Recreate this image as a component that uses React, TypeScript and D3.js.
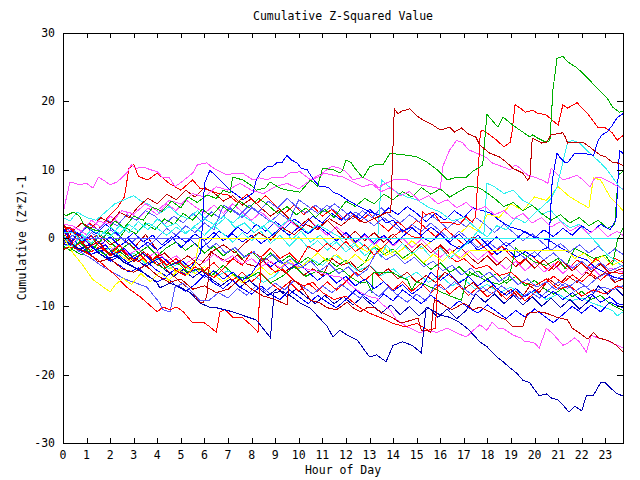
import React from 'react';
import * as d3 from 'd3';

const hourTicks = [0,1,2,3,4,5,6,7,8,9,10,11,12,13,14,15,16,17,18,19,20,21,22,23];
const valueTicks = [-30,-20,-10,0,10,20,30];

const RED = '#ff0000', GREEN = '#00b000', BLUE = '#0000ff', MAGENTA = '#ff50ff', CYAN = '#30f0f0',
  YELLOW = '#ffff00', DARKRED = '#c00000', DARKBLUE = '#0000b0', MIDBLUE = '#5858ff';

const gTop = [[0,3.5],[0.15,3.3],[0.45,3.8],[0.7,3.2],[0.9,1.8],[1.3,1.2],[1.8,0.8],[2.2,2.5],[2.6,1.5],[3.0,3.2],[3.4,2.6],[3.8,4.5],[4.2,3.9],[4.6,5.4],[5.0,4.4],[5.3,6.0],[5.7,5.2],[6.1,6.3],[6.5,5.8],[6.8,7.0],[7.08,6.6],[7.2,8.9],[7.63,8.5],[8.06,7.5],[8.2,7.0],[8.57,7.3],[8.78,8.2],[9.2,7.3],[9.54,7.0],[10.05,6.7],[10.5,8.5],[10.8,7.5],[11.0,10.2],[11.45,10.0],[11.75,9.5],[11.87,10.0],[12.0,11.4],[12.2,11.1],[12.38,10.2],[12.72,8.8],[13.0,10.4],[13.2,10.7],[13.57,10.7],[13.87,12.4],[14.6,12.1],[15.0,11.9],[15.44,11.1],[15.86,10.0],[16.3,8.5],[16.6,8.8],[17.1,8.9],[17.4,9.8],[17.68,10.4],[17.8,10.7],[17.98,18.1],[18.45,16.2],[18.66,17.7],[19.08,16.5],[19.5,15.5],[19.8,14.8],[19.93,15.1],[20.14,14.6],[20.5,14.0],[20.65,14.3],[20.78,21.7],[20.95,26.3],[21.2,26.6],[21.4,25.8],[21.8,24.9],[22.2,23.6],[22.6,22.1],[23.07,20.5],[23.3,19.2],[23.6,18.4],[23.75,18.6]];

const rJump14 = [[0,-1.8],[0.3,-1.2],[0.6,0.5],[1.0,-1.5],[1.5,-0.5],[2.0,-2.5],[2.5,-1.8],[3.0,-3.5],[3.4,-2.0],[3.8,-3.2],[4.3,-2.2],[4.8,-3.8],[5.3,-2.6],[5.8,-4.0],[6.3,-2.0],[6.8,-1.0],[7.3,-2.2],[7.8,-0.5],[8.3,0.8],[8.8,-0.3],[9.3,1.5],[9.8,0.5],[10.3,2.0],[10.8,1.2],[11.3,2.8],[11.8,1.8],[12.3,3.2],[12.8,2.2],[13.3,3.0],[13.7,3.7],[13.9,3.7],[14.05,18.9],[14.2,18.2],[14.4,18.6],[14.7,18.9],[15.0,17.9],[15.3,17.2],[15.7,16.5],[16.0,15.8],[16.4,16.2],[16.6,15.5],[16.9,16.1],[17.2,15.2],[17.5,14.8],[17.68,13.6],[18.1,12.4],[18.5,11.9],[18.8,11.1],[19.08,10.2],[19.5,9.5],[19.7,8.5],[19.8,8.8],[19.9,14.6],[20.3,13.9],[20.5,14.0],[20.7,15.1],[21.2,15.4],[21.3,14.8],[21.4,13.9],[21.8,14.0],[22.05,14.0],[22.35,13.3],[22.6,12.6],[22.8,12.1],[23.0,11.9],[23.3,11.1],[23.5,11.0],[23.75,10.6]];

const r19 = [[0,1.6],[0.4,1.2],[0.8,-0.8],[1.2,0.3],[1.6,-1.5],[2.0,-2.4],[2.4,-1.0],[2.8,-2.8],[3.2,-3.5],[3.6,-2.3],[4.0,-4.0],[4.4,-3.2],[4.8,-4.8],[5.2,-5.5],[5.6,-4.2],[6.0,-5.0],[6.4,-5.8],[6.8,-4.5],[7.2,-3.0],[7.6,-4.0],[8.0,-2.0],[8.4,-2.8],[8.8,-1.5],[9.2,-3.0],[9.6,-2.2],[10.0,-3.5],[10.4,-1.2],[10.8,-2.0],[11.2,-0.8],[11.6,-1.8],[12.0,-0.5],[12.4,-2.0],[12.8,-1.0],[13.2,-2.5],[13.6,-1.2],[14.0,0.2],[14.4,1.2],[14.8,0.2],[15.15,0.0],[15.25,3.8],[15.4,3.4],[15.7,3.8],[16.0,2.3],[16.4,2.3],[16.8,1.9],[17.1,3.1],[17.35,2.3],[17.5,3.1],[17.6,9.0],[17.7,15.5],[17.8,15.8],[18.1,15.1],[18.4,14.3],[18.7,13.3],[18.96,14.0],[19.04,15.4],[19.17,19.5],[19.4,19.0],[19.6,18.4],[19.93,18.7],[20.1,18.3],[20.5,18.0],[21.0,16.5],[21.2,19.5],[21.4,19.0],[21.8,19.8],[22.2,18.4],[22.7,16.1],[23.0,16.1],[23.3,15.4],[23.5,14.3],[23.75,15.0]];

const bTopEnd = [[0,-1.0],[0.3,-1.0],[0.6,0.8],[1.0,-0.5],[1.4,-1.8],[1.8,-1.0],[2.2,-2.6],[2.6,-1.5],[3.0,-3.0],[3.4,-2.2],[3.8,-3.5],[4.2,-2.8],[4.6,-4.0],[5.0,-3.2],[5.4,-4.4],[5.7,-3.0],[5.85,-2.0],[6.0,8.0],[6.23,9.9],[6.66,8.5],[7.08,7.0],[7.38,6.3],[7.63,5.6],[8.06,6.6],[8.2,8.5],[8.35,9.5],[8.65,10.4],[8.86,10.4],[9.07,11.0],[9.3,11.1],[9.5,12.1],[9.7,11.4],[9.92,11.0],[10.1,10.2],[10.35,10.0],[10.5,9.2],[10.7,8.2],[10.9,7.5],[11.1,7.5],[11.3,7.3],[11.45,6.7],[11.75,6.3],[12.05,5.6],[12.5,4.7],[13.0,3.8],[13.4,3.4],[13.7,2.2],[14.0,2.6],[14.4,1.0],[14.8,1.6],[15.2,0.2],[15.6,-0.6],[16.0,0.6],[16.4,-0.8],[16.8,-1.6],[17.2,-0.4],[17.6,-1.8],[18.0,-1.0],[18.4,-2.4],[18.8,-1.5],[19.2,-2.8],[19.6,-2.0],[20.0,-2.8],[20.3,-1.8],[20.6,-1.3],[20.75,8.5],[20.95,12.4],[21.1,11.7],[21.3,11.0],[21.4,11.0],[21.7,12.4],[22.05,12.4],[22.5,12.1],[22.7,14.3],[22.86,15.1],[23.07,15.5],[23.3,16.5],[23.5,17.6],[23.75,18.2]];

const mTop = [[0,3.5],[0.15,6.0],[0.3,8.2],[0.5,8.0],[0.7,7.8],[1.0,8.0],[1.27,7.3],[1.5,8.9],[1.7,8.5],[2.0,7.8],[2.3,8.2],[2.7,9.5],[2.9,10.7],[3.1,10.2],[3.4,10.4],[3.7,10.0],[4.0,9.7],[4.24,8.8],[4.5,8.9],[4.75,7.5],[5.1,8.4],[5.5,9.5],[5.7,10.7],[6.1,11.0],[6.3,10.4],[6.66,9.7],[7.0,9.2],[7.2,9.5],[7.6,9.5],[8.06,8.5],[8.35,8.8],[8.65,8.5],[8.9,8.9],[9.33,8.8],[9.6,9.5],[10.05,9.7],[10.5,8.5],[10.8,8.9],[11.1,9.5],[11.45,9.2],[11.9,8.9],[12.3,8.2],[12.7,7.5],[13.1,7.9],[13.5,6.8],[13.9,7.4],[14.3,6.2],[14.7,6.8],[15.1,5.5],[15.5,6.2],[15.9,5.0],[16.3,5.6],[16.7,4.4],[17.1,5.2],[17.5,4.0],[17.9,4.6],[18.3,3.4],[18.7,4.0],[19.1,2.8],[19.5,3.6],[19.9,2.2],[20.3,3.0],[20.7,1.6],[21.1,2.4],[21.5,1.0],[21.9,1.8],[22.3,0.6],[22.7,1.6],[23.1,0.2],[23.5,1.0],[23.75,0.4]];

const m17 = [[0,0.6],[0.5,1.5],[1,0.5],[1.5,2.5],[2,2],[2.5,4],[3,3.5],[3.5,5],[4,4],[4.5,5.5],[5,5],[5.5,6.5],[6,6],[6.5,7.5],[7,7],[7.5,8],[8,7],[8.5,6.5],[9,7.5],[9.5,8],[10,7.2],[10.5,8.5],[11,9.5],[11.4,10.5],[11.75,10.2],[12.0,9.7],[12.3,8.5],[12.7,8.9],[13.1,8.2],[13.4,7.3],[13.57,7.8],[14.0,8.5],[14.6,8.5],[15.1,7.8],[15.6,7.5],[16.0,7.2],[16.1,10.4],[16.4,12.9],[16.7,14.3],[16.96,13.9],[17.2,12.9],[17.56,12.4],[17.98,11.7],[18.2,11.0],[18.66,10.4],[18.96,10.0],[19.17,10.7],[19.4,10.2],[19.7,9.2],[20.0,8.9],[20.3,8.5],[20.57,8.0],[20.7,10.2],[20.86,9.7],[21.2,8.5],[21.5,8.8],[21.8,9.2],[22.05,8.5],[22.35,7.5],[22.56,8.8],[22.86,8.8],[23.2,8.2],[23.5,7.6],[23.75,7.2]];

const cyan21 = [[0,0.5],[0.4,-1.2],[0.8,0.5],[1.2,-0.8],[1.6,1.0],[2.0,0.2],[2.4,1.8],[2.8,0.8],[3.2,2.4],[3.6,1.2],[4.0,2.8],[4.4,1.6],[4.8,2.2],[5.2,0.8],[5.6,1.6],[6.0,0.4],[6.4,1.8],[6.8,0.6],[7.2,-0.6],[7.6,0.8],[8.0,-0.4],[8.4,1.0],[8.8,-0.8],[9.2,0.4],[9.6,-1.2],[10.0,0.2],[10.4,-1.5],[10.8,-0.4],[11.2,-1.8],[11.6,-0.6],[12.0,-2.0],[12.4,-1.0],[12.8,-2.6],[13.2,-1.4],[13.5,-2.8],[13.7,-1.0],[14.0,-2.2],[14.4,-0.8],[14.8,-2.4],[15.2,-1.2],[15.6,-2.8],[16.0,-1.4],[16.4,-3.0],[16.8,-1.8],[17.2,-0.6],[17.6,1.0],[18.0,0.2],[18.4,1.8],[18.8,1.2],[19.2,3.0],[19.6,2.2],[20.0,3.6],[20.4,4.8],[20.7,5.8],[20.95,7.5],[21.4,14.0],[21.6,14.3],[21.9,13.9],[22.2,12.9],[22.5,11.9],[22.8,11.0],[23.07,10.0],[23.3,8.9],[23.6,7.5],[23.75,7.0]];

const cyan13 = [[0,3.0],[0.3,2.5],[0.6,3.8],[1.0,3.0],[1.4,2.6],[1.8,3.8],[2.2,5.0],[2.6,5.6],[3.0,6.2],[3.3,5.4],[3.7,4.8],[4.1,3.6],[4.5,4.6],[4.9,3.4],[5.3,2.8],[5.7,4.0],[6.1,2.6],[6.5,1.8],[6.9,3.0],[7.3,1.5],[7.7,2.2],[8.1,0.8],[8.5,1.8],[8.9,0.4],[9.3,1.4],[9.7,-0.2],[10.1,1.0],[10.5,-0.6],[10.9,0.4],[11.3,-1.0],[11.7,0.0],[12.1,-1.4],[12.5,-0.4],[12.9,-1.6],[13.2,-0.5],[13.35,0.0],[13.5,8.5],[13.9,7.3],[14.2,6.6],[14.6,6.0],[15.0,5.6],[15.5,4.5],[16.0,3.8],[16.5,2.5],[17.0,3.0],[17.5,1.5],[17.85,0.5],[17.98,8.0],[18.3,7.5],[18.7,6.5],[19.1,7.0],[19.5,5.5],[19.9,4.8],[20.3,3.5],[20.7,4.0],[21.1,2.5],[21.5,1.5],[21.9,2.0],[22.3,0.5],[22.7,-1.0],[23.1,-2.5],[23.5,-3.5],[23.75,-4.2]];

const cyanLow = [[0,-1.2],[0.5,-1],[1,-0.5],[1.5,-2],[2,-1.5],[2.5,-3],[3,-2.2],[3.5,-3.8],[4,-3],[4.5,-4.5],[5,-3.6],[5.5,-5],[6,-4.2],[6.5,-5.6],[7,-4.8],[7.5,-6.0],[8,-5.2],[8.5,-6.5],[9,-5.5],[9.5,-3.5],[10,-4.5],[10.5,-3.0],[11,-4.0],[11.5,-2.5],[12,-3.5],[12.5,-4.8],[13,-4.0],[13.5,-5.5],[14,-4.5],[14.5,-6.0],[15,-5.0],[15.5,-6.5],[16,-5.5],[16.5,-7.0],[17,-6.0],[17.5,-7.5],[18,-6.8],[18.5,-8.0],[19,-7.2],[19.5,-8.5],[20,-7.8],[20.5,-9.0],[21,-8.2],[21.5,-9.2],[22,-8.8],[22.5,-9.6],[23,-10.2],[23.3,-10.6],[23.5,-11.4],[23.75,-10.8]];

const bBottom = [[0,-0.3],[0.3,-0.8],[0.7,-1.6],[1.1,-1.0],[1.5,-2.2],[1.9,-3.0],[2.3,-2.6],[2.6,-3.6],[2.97,-4.2],[3.56,-5.4],[4.0,-6.6],[4.1,-7.3],[4.54,-6.6],[4.96,-7.2],[5.4,-8.0],[5.8,-9.5],[6.2,-10.1],[6.5,-10.2],[7.2,-10.8],[7.6,-11.3],[8.2,-12.0],[8.8,-14.6],[8.95,-8.0],[9.3,-7.8],[9.7,-8.6],[10.05,-9.5],[10.5,-10.3],[10.9,-11.8],[11.2,-12.9],[11.45,-14.5],[11.75,-13.5],[12.05,-14.2],[12.47,-14.9],[13.0,-17.4],[13.3,-17.1],[13.7,-18.1],[14.0,-15.7],[14.4,-15.2],[14.8,-15.7],[15.2,-16.8],[15.4,-10.1],[15.7,-10.6],[16.0,-11.3],[16.4,-11.6],[16.8,-12.3],[17.2,-13.4],[17.68,-15.2],[17.98,-15.9],[18.4,-17.4],[18.66,-18.1],[18.96,-19.0],[19.25,-19.8],[19.5,-20.8],[19.8,-21.2],[20.0,-22.2],[20.2,-23.1],[20.5,-22.8],[20.7,-23.4],[21.0,-23.7],[21.2,-24.4],[21.46,-25.5],[21.7,-24.6],[22.0,-25.3],[22.2,-23.0],[22.5,-23.0],[22.8,-21.2],[23.0,-21.2],[23.3,-22.2],[23.5,-22.8],[23.75,-23.1]];

const rLowLeft = [[0,1.0],[0.3,-0.6],[0.6,-1.4],[1.0,-2.2],[1.4,-3.0],[1.8,-4.2],[2.2,-5.4],[2.7,-7.2],[3.27,-8.6],[4.0,-10.8],[4.24,-10.1],[4.54,-10.5],[4.83,-10.1],[5.1,-10.8],[5.47,-12.3],[5.94,-12.3],[6.23,-13.0],[6.5,-13.8],[6.66,-10.8],[6.87,-10.5],[7.2,-11.6],[7.63,-11.7],[8.06,-13.0],[8.27,-13.8],[8.4,-2.8],[8.6,-3.8],[9.0,-5.0],[9.3,-4.5],[9.8,-6.2],[10.2,-7.0],[10.6,-6.5],[11.0,-8.0],[11.5,-9.0],[12.0,-8.5],[12.5,-10.0],[13.0,-11.0],[13.5,-11.7],[14.0,-12.5],[14.5,-13.0],[15.0,-12.5],[15.5,-13.5],[15.8,-13.2],[15.95,-1.0],[16.3,-2.5],[16.7,-3.5],[17.0,-3.0],[17.5,-4.5],[18.0,-4.0],[18.5,-5.5],[19.0,-5.0],[19.5,-6.5],[20.0,-7.0],[20.5,-6.0],[21.0,-7.5],[21.5,-7.0],[22.0,-8.5],[22.5,-7.6],[23.0,-8.2],[23.5,-7.0],[23.75,-7.4]];

const mLow = [[0,-0.5],[0.4,-0.8],[0.8,0.4],[1.2,-1.2],[1.6,-0.4],[2.0,-1.8],[2.4,-1.0],[2.8,-2.4],[3.2,-1.6],[3.6,-2.8],[4.0,-2.0],[4.4,-3.4],[4.8,-2.6],[5.2,-3.8],[5.6,-2.8],[6.0,-3.6],[6.4,-2.4],[6.8,-3.4],[7.2,-2.6],[7.6,-3.8],[8.0,-3.0],[8.4,-4.2],[8.8,-3.4],[9.2,-4.4],[9.6,-3.6],[10.0,-4.2],[10.5,-4.7],[10.9,-5.0],[11.3,-5.5],[11.75,-5.7],[12.05,-6.4],[12.3,-7.2],[12.6,-7.9],[13.0,-8.6],[13.3,-8.8],[13.57,-9.8],[13.87,-10.5],[14.16,-12.0],[14.6,-13.0],[15.14,-13.9],[15.4,-13.5],[15.86,-13.8],[16.3,-13.2],[16.7,-13.9],[17.1,-14.5],[17.4,-13.5],[17.68,-12.7],[17.98,-13.5],[18.2,-12.3],[18.45,-13.2],[18.66,-13.2],[19.08,-14.2],[19.4,-14.6],[19.6,-15.2],[19.8,-15.2],[20.0,-15.4],[20.2,-16.1],[20.5,-13.2],[20.7,-13.8],[20.9,-14.5],[21.2,-15.7],[21.4,-15.4],[21.7,-14.6],[21.9,-15.2],[22.2,-16.7],[22.4,-14.2],[22.65,-14.6],[23.0,-14.9],[23.3,-15.4],[23.5,-15.7],[23.75,-16.1]];

const drLowRight = [[0,2.2],[0.5,-1.5],[1,-2],[1.5,-3.5],[2,-3],[2.5,-4.5],[3,-5],[3.5,-4],[4,-5.5],[4.5,-6.5],[5,-6],[5.5,-7.5],[6,-7],[6.5,-8],[7,-7.5],[7.5,-6],[8,-7.5],[8.5,-8.5],[9,-9],[9.5,-9.8],[9.6,-6.4],[9.75,-6.1],[10.05,-6.9],[10.5,-9.1],[10.9,-9.5],[11.2,-10.2],[11.6,-10.5],[12.05,-9.4],[12.3,-10.2],[12.6,-10.8],[12.9,-10.2],[13.15,-10.1],[13.57,-11.0],[14.0,-11.7],[14.3,-12.4],[14.5,-12.3],[14.8,-12.0],[15.05,-11.7],[15.2,-13.5],[15.4,-13.5],[15.6,-13.8],[15.75,-9.0],[16.0,-9.5],[16.5,-10.5],[17.0,-9.5],[17.4,-10.5],[17.68,-10.1],[18.1,-10.8],[18.5,-11.6],[18.8,-12.0],[19.08,-13.0],[19.5,-13.0],[19.7,-11.0],[20.2,-10.8],[20.5,-11.0],[20.95,-11.6],[21.4,-12.0],[21.6,-13.2],[21.9,-13.9],[22.26,-14.8],[22.5,-13.8],[22.7,-14.6],[23.0,-14.9],[23.2,-15.1],[23.5,-15.8],[23.75,-16.7]];

const yellowLow = [[0,0.2],[0.42,-2.2],[0.8,-3.8],[1.27,-6.1],[1.6,-6.9],[2.0,-7.9],[2.2,-6.9],[2.54,-5.9],[2.9,-6.8],[3.3,-5.2],[3.7,-6.4],[4.1,-5.0],[4.5,-6.2],[4.9,-4.6],[5.3,-5.4],[5.6,-3.8],[5.8,0],[12.2,0],[12.5,-1.2],[12.9,-2.0],[13.3,-1.0],[13.7,-2.6],[14.1,-1.8],[14.5,-3.2],[14.9,-2.2],[15.3,-3.6],[15.7,-2.4],[16.1,-3.4],[16.5,-2.0],[16.9,-3.0],[17.3,-1.8],[17.68,-1.8],[21.4,-1.8],[21.7,-3.0],[22.1,-2.2],[22.5,-3.6],[22.9,-2.6],[23.3,-4.0],[23.75,-3.2]];

const midblueZero = [[0,0],[5.9,0],[6.2,-1.5],[6.5,-0.8],[6.9,-2.2],[7.3,-1.4],[7.7,-2.8],[8.1,-2.0],[8.5,-3.4],[8.9,-2.4],[9.3,-3.8],[9.7,-3.0],[10.1,-4.4],[10.5,-3.4],[10.9,-4.8],[11.3,-3.8],[11.7,-5.2],[12.1,-4.2],[12.5,-5.6],[12.9,-4.6],[13.3,-2.0],[13.7,-3.2],[14.1,-2.4],[14.5,-3.8],[14.9,-2.8],[15.3,-4.2],[15.7,-3.4],[16.1,-4.8],[16.5,-4.0],[16.9,-5.4],[17.3,-4.4],[17.7,-5.8],[18.1,-5.0],[18.5,-6.4],[18.9,-5.4],[19.3,-6.8],[19.7,-6.0],[20.1,-7.2],[20.5,-6.4],[20.9,-7.6],[21.3,-6.6],[21.7,-7.8],[22.1,-7.0],[22.5,-8.0],[22.9,-7.2],[23.3,-7.6],[23.75,-7.0]];

const cyanZero = [[0,0.8],[0.4,0.8],[0.8,-0.4],[1.2,1.2],[1.6,0.4],[2.0,1.6],[2.4,0.6],[2.8,2.0],[3.2,1.0],[3.6,2.2],[4.0,1.4],[4.4,0.4],[4.8,1.6],[5.2,0.6],[5.6,1.8],[6.0,2.8],[6.4,2.0],[6.8,3.2],[7.2,2.2],[7.6,3.4],[8.0,2.4],[8.4,1.4],[8.8,2.6],[9.2,1.6],[9.6,2.8],[10.0,1.8],[10.4,0.8],[10.8,2.0],[11.2,1.2],[11.5,0.6],[11.8,0],[23.75,0]];

const g2 = [[0,-1.2],[0.3,-1.8],[0.7,-0.6],[1.1,-2.0],[1.5,-0.8],[1.9,0.8],[2.3,-0.4],[2.7,1.4],[3.1,0.6],[3.5,2.2],[3.9,1.2],[4.3,2.8],[4.7,2.0],[5.1,3.6],[5.5,2.6],[5.9,4.2],[6.3,3.2],[6.7,4.8],[7.1,3.8],[7.5,5.4],[7.9,4.4],[8.3,5.8],[8.7,4.8],[9.1,3.6],[9.5,4.6],[9.9,3.4],[10.3,4.4],[10.7,3.0],[11.1,4.2],[11.5,3.0],[11.75,4.2],[12.0,5.4],[12.4,4.6],[12.8,5.8],[13.2,5.0],[13.6,6.4],[14.0,5.6],[14.4,6.8],[14.8,6.0],[15.2,7.4],[15.6,6.4],[16.0,7.2],[16.4,6.0],[16.8,6.8],[17.2,7.6],[17.68,7.3],[17.98,6.6],[18.3,5.8],[18.7,4.6],[19.1,5.2],[19.5,4.0],[19.9,4.8],[20.3,3.6],[20.7,2.6],[21.1,3.4],[21.5,2.2],[21.9,3.0],[22.3,1.8],[22.7,2.6],[23.1,1.4],[23.4,2.0],[23.55,9.2],[23.75,9.8]];

const gMid = [[0,0.8],[0.3,-1.5],[0.8,-2.5],[1.2,-1.0],[1.8,-2.5],[2.2,-1.5],[2.8,-3.0],[3.3,-2.0],[3.8,-3.5],[4.3,-4.5],[4.8,-3.5],[5.3,-5.0],[5.8,-4.5],[6.3,-5.5],[6.8,-4.0],[7.3,-5.5],[7.8,-6.0],[8.3,-5.0],[8.8,-6.6],[9.3,-5.6],[9.8,-4.2],[10.3,-5.6],[10.8,-4.8],[11.3,-5.2],[11.75,-4.4],[12.2,-5.7],[12.6,-6.6],[12.9,-6.4],[13.1,-8.0],[13.15,-5.1],[13.57,-5.0],[14.0,-5.1],[14.3,-5.7],[14.6,-6.1],[14.8,-7.6],[15.0,-6.4],[15.4,-6.9],[15.86,-7.6],[16.1,-8.0],[16.5,-8.6],[16.9,-9.1],[17.1,-6.1],[17.25,-5.0],[17.5,-5.5],[18.0,-6.3],[18.5,-6.8],[18.9,-6.0],[19.2,-1.5],[19.6,-2.5],[20.0,-3.5],[20.5,-4.0],[21.0,-3.0],[21.3,-4.5],[21.7,-1.5],[22.0,-2.0],[22.5,-3.0],[23.0,-2.5],[23.3,-4.0],[23.5,-0.5],[23.75,1.5]];

const gLowRight = [[0,0.5],[0.4,1.2],[0.8,0.2],[1.2,-1.0],[1.6,0.4],[2.0,-0.6],[2.4,-1.8],[2.8,-0.8],[3.2,-2.2],[3.6,-1.2],[4.0,-2.6],[4.4,-1.4],[4.8,-0.6],[5.2,-1.8],[5.6,-0.8],[6.0,-2.2],[6.4,-1.2],[6.8,-2.6],[7.2,-1.6],[7.6,-3.0],[8.0,-2.0],[8.4,-3.4],[8.8,-2.2],[9.2,-3.6],[9.6,-2.6],[10.0,-3.8],[10.4,-2.8],[10.8,-4.0],[11.2,-3.0],[11.6,-4.2],[12.0,-3.2],[12.4,-4.6],[12.8,-3.6],[13.2,-1.2],[13.6,-2.4],[14.0,-1.6],[14.4,-3.0],[14.8,-2.0],[15.2,-3.4],[15.6,-4.6],[16.0,-3.6],[16.4,-5.0],[16.8,-4.2],[17.2,-5.6],[17.6,-4.8],[18.0,-6.0],[18.4,-5.2],[18.8,-6.6],[19.2,-5.6],[19.6,-7.0],[20.0,-6.2],[20.4,-7.4],[20.8,-8.2],[21.2,-7.4],[21.6,-8.6],[22.0,-7.8],[22.4,-9.0],[22.8,-8.4],[23.2,-9.6],[23.5,-10.2],[23.75,-10.6]];

const bRight1 = [[0,-0.8],[0.3,1.2],[0.6,0.2],[1.0,1.6],[1.4,0.6],[1.8,2.0],[2.2,1.0],[2.6,-0.4],[3.0,0.8],[3.4,-0.6],[3.8,0.4],[4.2,-1.0],[4.6,0.2],[5.0,-1.4],[5.4,-0.2],[5.8,-1.6],[6.2,-0.6],[6.6,1.0],[7.0,0.2],[7.4,1.6],[7.8,0.6],[8.2,2.0],[8.6,1.0],[9.0,2.4],[9.4,1.4],[9.8,2.8],[10.2,1.8],[10.6,3.2],[11.0,2.2],[11.4,3.6],[11.8,2.6],[12.2,3.8],[12.6,2.8],[13.0,4.2],[13.4,3.0],[13.8,4.4],[14.2,3.4],[14.6,4.6],[15.0,3.6],[15.4,2.4],[15.8,3.6],[16.2,2.6],[16.6,4.0],[17.0,3.0],[17.4,4.4],[17.68,4.1],[18.1,3.7],[18.5,2.6],[18.96,1.6],[19.4,1.2],[19.8,0.4],[20.2,0.0],[20.6,-0.3],[21.0,-1.2],[21.4,-2.0],[21.8,-2.7],[22.2,-3.2],[22.6,-4.4],[23.0,-5.1],[23.4,-5.8],[23.75,-6.0]];

const bRight2 = [[0,1.5],[0.4,-1.0],[0.8,-2.0],[1.2,-1.2],[1.6,-2.4],[2.0,-3.4],[2.4,-2.6],[2.8,-3.8],[3.2,-4.6],[3.6,-3.6],[4.0,-4.8],[4.4,-5.6],[4.8,-4.4],[5.2,-5.4],[5.6,-4.6],[6.0,-5.8],[6.4,-4.8],[6.8,-6.0],[7.2,-5.0],[7.6,-6.2],[8.0,-5.2],[8.4,-3.0],[8.8,-4.2],[9.2,-3.2],[9.6,-4.6],[10.0,-3.6],[10.4,-5.0],[10.8,-6.2],[11.2,-5.2],[11.6,-6.6],[12.0,-5.6],[12.4,-7.0],[12.8,-6.0],[13.2,-7.4],[13.6,-6.4],[14.0,-7.8],[14.4,-6.8],[14.8,-8.2],[15.2,-7.2],[15.6,-5.0],[16.0,-6.2],[16.4,-5.2],[16.8,-6.6],[17.2,-5.6],[17.6,-7.0],[18.0,-6.0],[18.4,-7.4],[18.8,-8.4],[19.2,-7.4],[19.6,-8.6],[20.0,-7.6],[20.4,-8.8],[20.8,-7.8],[21.2,-9.0],[21.6,-8.0],[22.0,-9.2],[22.4,-8.2],[22.8,-9.4],[23.2,-8.6],[23.5,-9.6],[23.75,-9.8]];

const midblueLow = [[0,0.3],[0.4,-1.2],[0.7,-2.0],[1.2,-3.0],[1.6,-4.0],[2.0,-4.8],[2.3,-5.4],[2.7,-6.1],[3.1,-6.6],[3.56,-7.2],[4.1,-9.5],[4.24,-10.5],[4.54,-10.8],[4.75,-7.2],[5.1,-6.6],[5.5,-8.0],[5.8,-9.1],[6.2,-9.1],[6.6,-8.0],[7.0,-8.8],[7.4,-7.4],[7.8,-8.4],[8.2,-7.0],[8.6,-7.8],[9.0,-6.6],[9.4,-7.6],[9.8,-6.2],[10.2,-7.2],[10.6,-8.2],[11.0,-7.0],[11.4,-8.0],[11.8,-6.8],[12.2,-7.8],[12.6,-8.8],[13.0,-7.6],[13.4,-8.6],[13.8,-7.2],[14.2,-8.4],[14.6,-9.4],[15.0,-8.2],[15.4,-9.2],[15.8,-6.8],[16.2,-7.6],[16.6,-6.4],[17.0,-7.4],[17.4,-8.4],[17.8,-7.2],[18.2,-8.2],[18.6,-7.0],[19.0,-8.0],[19.4,-9.0],[19.8,-7.8],[20.2,-8.8],[20.6,-7.6],[21.0,-6.4],[21.4,-7.4],[21.8,-6.2],[22.2,-7.2],[22.6,-6.0],[23.0,-5.2],[23.4,-6.2],[23.75,-5.4]];

const midblueUp = [[0,1.0],[0.3,1.4],[0.7,0.6],[1.1,2.0],[1.5,1.2],[1.9,2.6],[2.3,1.8],[2.7,3.4],[3.1,2.6],[3.5,4.0],[3.9,3.2],[4.3,2.0],[4.7,3.2],[5.1,2.2],[5.5,3.6],[5.9,2.4],[6.3,3.8],[6.7,2.8],[7.1,4.4],[7.5,3.4],[7.9,4.8],[8.3,3.8],[8.7,5.4],[9.1,4.4],[9.5,5.8],[9.9,4.6],[10.3,3.6],[10.7,4.8],[11.1,3.8],[11.5,5.0],[11.9,4.0],[12.3,2.8],[12.7,4.0],[13.1,3.0],[13.5,4.4],[13.9,3.2],[14.3,2.2],[14.7,3.4],[15.1,2.4],[15.5,3.6],[15.9,2.6],[16.3,1.4],[16.7,2.6],[17.1,1.6],[17.5,3.0],[17.9,2.0],[18.3,0.8],[18.7,2.0],[19.1,0.8],[19.5,-0.4],[19.9,0.6],[20.3,-0.6],[20.7,-1.8],[21.1,-0.8],[21.5,-2.0],[21.9,-1.0],[22.3,-2.2],[22.7,-1.2],[23.1,-2.4],[23.4,-1.6],[23.75,-2.4]];

const redMidUp = [[0,1.2],[0.3,1.6],[0.7,0.4],[1.1,2.2],[1.5,1.2],[1.9,3.0],[2.3,4.4],[2.6,6.0],[2.8,10.2],[3.0,10.8],[3.2,9.0],[3.6,8.5],[4.0,9.5],[4.5,8.0],[5.0,7.0],[5.5,8.5],[5.8,7.3],[6.2,7.0],[6.6,6.5],[7.0,6.3],[7.4,5.2],[7.8,6.4],[8.2,5.0],[8.6,6.2],[9.0,4.8],[9.4,3.6],[9.8,4.8],[10.2,3.4],[10.6,4.6],[11.0,3.2],[11.4,4.2],[11.8,2.8],[12.2,3.8],[12.6,2.4],[13.0,3.6],[13.4,2.2],[13.8,1.0],[14.2,2.4],[14.6,1.2],[15.0,2.6],[15.4,1.4],[15.8,0.2],[16.2,1.4],[16.6,0.2],[17.0,-1.0],[17.4,0.2],[17.8,-1.2],[18.2,-2.4],[18.6,-1.2],[19.0,-2.6],[19.4,-3.8],[19.8,-2.4],[20.2,-3.6],[20.6,-4.8],[21.0,-3.4],[21.4,-4.6],[21.8,-3.2],[22.2,-4.4],[22.6,-3.0],[23.0,-4.2],[23.4,-3.0],[23.75,-3.6]];

const darkred1 = [[0,1.8],[0.5,1],[1,-0.5],[1.5,0.5],[2,-1],[2.5,0],[3,-1.5],[3.5,0.5],[4,-1.8],[4.1,-3.2],[4.4,-4.7],[4.66,-5.4],[4.96,-6.4],[5.26,-7.2],[5.5,-8.0],[5.8,-9.4],[5.94,-9.5],[6.1,-8.6],[6.25,-2],[6.6,-2.8],[7,-3.5],[7.4,-2.5],[7.8,-3.8],[8.2,-4.2],[8.6,-3],[9,-4],[9.4,-5],[9.8,-4],[10.2,-5.5],[10.6,-4.5],[11,-5.5],[11.4,-3],[11.8,-4],[12.2,-3.5],[12.6,-5],[13,-4],[13.4,-5.5],[13.8,-4.5],[14.2,-6],[14.6,-5],[15,-6.5],[15.4,-5.5],[15.8,-6.5],[16.2,-5],[16.6,-6],[17,-7.5],[17.4,-6.5],[17.8,-8],[18.2,-7],[18.6,-8.5],[19,-7.5],[19.4,-9],[19.8,-7],[20.2,-8],[20.6,-6],[21,-7],[21.4,-5.5],[21.8,-6.5],[22.2,-5],[22.6,-6],[23,-5],[23.4,-6.5],[23.75,-6]];

const darkredUp = [[0,-1.0],[0.4,1.0],[0.8,2.2],[1.2,1.4],[1.6,3.0],[2.0,2.2],[2.4,3.8],[2.8,3.0],[3.2,4.6],[3.6,5.8],[4.0,5.0],[4.4,6.4],[4.8,5.6],[5.2,7.0],[5.6,6.0],[6.0,7.4],[6.4,6.6],[6.8,5.4],[7.2,6.2],[7.6,4.8],[8.0,5.8],[8.4,4.4],[8.8,3.2],[9.2,4.2],[9.6,2.8],[10.0,1.6],[10.4,2.8],[10.8,1.4],[11.2,2.6],[11.6,1.2],[12.0,-0.2],[12.4,1.0],[12.8,-0.4],[13.2,0.8],[13.6,-0.6],[14.0,0.6],[14.4,-0.8],[14.8,-2.0],[15.2,-0.8],[15.6,-2.2],[16.0,-1.0],[16.4,-2.4],[16.8,-1.2],[17.2,-2.6],[17.6,-3.8],[18.0,-2.6],[18.4,-4.0],[18.8,-2.8],[19.2,-4.2],[19.6,-3.0],[20.0,-4.4],[20.4,-3.2],[20.8,-4.6],[21.2,-3.4],[21.6,-4.8],[22.0,-3.6],[22.4,-5.0],[22.8,-3.8],[23.2,-5.2],[23.75,-4.4]];

const yellowMid = [[0,0.4],[0.4,-0.8],[0.8,0.4],[1.2,-1.0],[1.6,-2.0],[2.0,-1.2],[2.4,-2.4],[2.8,-3.4],[3.2,-2.6],[3.6,-3.8],[4.0,-2.8],[4.4,-4.0],[4.8,-5.0],[5.2,-4.0],[5.6,-5.2],[6.0,-4.2],[6.4,-5.4],[6.8,-6.4],[7.2,-5.4],[7.6,-6.6],[8.0,-5.4],[8.4,-4.2],[8.8,-5.4],[9.2,-4.4],[9.6,-3.2],[10.0,-4.4],[10.4,-3.4],[10.8,-2.2],[11.2,-3.4],[11.6,-2.4],[12.0,-3.6],[12.4,-2.4],[12.8,-3.6],[13.2,-2.6],[13.6,-1.4],[14.0,-2.6],[14.4,-1.6],[14.8,-0.4],[15.2,-1.6],[15.6,-0.6],[16.0,0.6],[16.4,-0.6],[16.8,0.6],[17.2,1.8],[17.6,1.0],[18.0,3.5],[18.5,3.0],[19.0,5.0],[19.5,4.0],[20.0,6.0],[20.5,5.5],[21.0,7.5],[21.5,6.0],[22.0,5.0],[22.3,4.4],[22.5,8.8],[22.8,8.5],[23.2,6.0],[23.5,5.0],[23.75,4.0]];

const redLowMid = [[0,-1.5],[0.4,-1.4],[0.8,-0.6],[1.2,-2.0],[1.6,-1.2],[2.0,-2.6],[2.4,-1.8],[2.8,-3.2],[3.2,-2.2],[3.6,-3.6],[4.0,-2.6],[4.4,-4.0],[4.8,-3.0],[5.2,-4.4],[5.6,-3.4],[6.0,-4.8],[6.4,-3.6],[6.8,-5.0],[7.2,-6.2],[7.6,-5.0],[8.0,-6.4],[8.4,-5.2],[8.8,-6.6],[9.2,-7.6],[9.6,-6.4],[10.0,-7.8],[10.4,-6.6],[10.8,-7.8],[11.2,-6.4],[11.6,-7.6],[12.0,-6.4],[12.4,-5.0],[12.8,-6.2],[13.2,-5.0],[13.6,-6.4],[14.0,-7.6],[14.4,-6.4],[14.8,-7.8],[15.2,-6.6],[15.6,-8.0],[16.0,-6.8],[16.4,-8.2],[16.8,-7.0],[17.2,-8.4],[17.6,-7.2],[18.0,-8.6],[18.4,-7.6],[18.8,-9.0],[19.2,-7.8],[19.6,-9.2],[20.0,-8.0],[20.4,-6.8],[20.8,-5.6],[21.2,-6.6],[21.6,-5.4],[22.0,-6.4],[22.4,-5.2],[22.8,-6.2],[23.2,-5.0],[23.75,-5.2]];

const blueLate = [[0,1.2],[0.4,0.8],[0.8,-0.6],[1.2,0.4],[1.6,-1.0],[2.0,0.2],[2.4,-1.2],[2.8,-0.2],[3.2,-1.6],[3.6,-0.6],[4.0,-1.8],[4.4,-0.8],[4.8,0.4],[5.2,-0.6],[5.6,0.6],[6.0,-0.4],[6.4,0.8],[6.8,-0.4],[7.2,0.6],[7.6,-0.6],[8.0,0.4],[8.4,-0.8],[8.8,0.2],[9.2,1.4],[9.6,0.4],[10.0,1.6],[10.4,0.6],[10.8,1.8],[11.2,0.8],[11.6,-0.4],[12.0,0.8],[12.4,-0.6],[12.8,0.6],[13.2,-0.8],[13.6,0.4],[14.0,-1.0],[14.4,0.2],[14.8,1.4],[15.2,0.4],[15.6,1.6],[16.0,0.6],[16.4,-0.6],[16.8,0.6],[17.2,-0.8],[17.6,0.4],[18.0,-1.0],[18.4,0.2],[18.8,-1.2],[19.2,-0.2],[19.6,1.0],[20.0,0.0],[20.4,1.2],[20.8,0.2],[21.2,1.4],[21.6,0.4],[22.0,1.8],[22.4,0.8],[22.8,2.0],[23.2,1.2],[23.45,2.6],[23.6,12.8],[23.75,12.4]];

const darkblue2 = [[0,-0.5],[0.3,-0.8],[0.7,-1.8],[1.1,-1.0],[1.5,-2.2],[1.9,-1.4],[2.3,-2.8],[2.7,-3.8],[3.1,-3.0],[3.5,-4.2],[3.9,-3.2],[4.3,-4.6],[4.7,-5.6],[5.1,-4.6],[5.5,-5.8],[5.9,-4.8],[6.3,-6.0],[6.7,-7.0],[7.1,-6.0],[7.5,-7.2],[7.9,-6.2],[8.3,-7.4],[8.7,-8.4],[9.1,-7.4],[9.5,-8.6],[9.9,-7.4],[10.3,-8.6],[10.7,-9.6],[11.1,-8.4],[11.5,-9.6],[11.9,-8.6],[12.3,-9.8],[12.7,-8.6],[13.1,-9.8],[13.5,-11.0],[13.9,-9.8],[14.3,-11.2],[14.7,-10.0],[15.1,-11.4],[15.5,-10.2],[15.9,-11.6],[16.3,-10.4],[16.7,-11.8],[17.1,-10.6],[17.5,-8.2],[17.9,-9.4],[18.3,-8.2],[18.7,-9.6],[19.1,-8.4],[19.5,-9.8],[19.9,-8.6],[20.3,-10.0],[20.7,-8.8],[21.1,-10.2],[21.5,-9.0],[21.9,-10.4],[22.3,-9.2],[22.7,-7.0],[23.1,-8.2],[23.4,-7.2],[23.75,-8.4]];

const magentaMid = [[0,2.0],[0.4,1.8],[0.8,1.0],[1.2,2.6],[1.6,1.6],[2.0,3.2],[2.4,2.2],[2.8,3.8],[3.2,2.8],[3.6,4.4],[4.0,3.4],[4.4,5.0],[4.8,4.0],[5.2,5.6],[5.6,4.6],[6.0,3.6],[6.4,4.8],[6.8,3.6],[7.2,5.0],[7.6,3.8],[8.0,2.6],[8.4,3.8],[8.8,2.6],[9.2,1.4],[9.6,2.6],[10.0,1.4],[10.4,2.8],[10.8,1.6],[11.2,0.4],[11.6,1.6],[12.0,0.4],[12.4,-0.8],[12.8,0.4],[13.2,-1.0],[13.6,0.2],[14.0,-1.2],[14.4,0.0],[14.8,-1.4],[15.2,-0.2],[15.6,-1.6],[16.0,-2.8],[16.4,-1.6],[16.8,-3.0],[17.2,-1.8],[17.6,-3.2],[18.0,-2.0],[18.4,-3.4],[18.8,-4.6],[19.2,-3.4],[19.6,-4.8],[20.0,-3.6],[20.4,-5.0],[20.8,-3.8],[21.2,-5.2],[21.6,-4.0],[22.0,-5.4],[22.4,-4.2],[22.8,-5.6],[23.2,-4.4],[23.75,-5.0]];

const blueLL = [[0,1.0],[0.4,-0.2],[0.8,-1.4],[1.2,-2.4],[1.6,-1.8],[2.0,-3.2],[2.4,-4.0],[2.8,-5.0],[3.2,-4.4],[3.6,-5.6],[4.0,-6.4],[4.4,-5.8],[4.8,-7.0],[5.2,-7.8],[5.6,-6.8],[6.0,-5.4],[6.4,-6.6],[6.8,-7.4],[7.2,-6.2],[7.6,-7.4],[8.0,-8.2],[8.4,-7.0],[8.8,-8.2],[9.2,-9.0],[9.6,-7.6],[10.0,-8.6],[10.4,-9.6],[10.8,-8.4],[11.2,-9.4],[11.6,-10.2],[12.0,-9.0],[12.4,-7.6],[12.8,-8.6],[13.2,-9.6],[13.6,-8.2],[14.0,-9.2],[14.4,-7.6],[14.8,-8.6],[15.2,-9.6],[15.6,-8.4],[16.0,-9.4],[16.4,-10.4],[16.8,-9.2],[17.2,-10.2],[17.6,-11.0],[18.0,-9.8],[18.4,-10.8],[18.8,-11.8],[19.2,-10.6],[19.6,-11.6],[20.0,-10.4],[20.4,-11.4],[20.8,-12.4],[21.2,-11.2],[21.6,-10.0],[22.0,-11.0],[22.4,-9.8],[22.8,-10.8],[23.2,-9.4],[23.75,-10.2]];

const blueUpMid = [[0,-0.8],[0.4,0.4],[0.8,-0.6],[1.2,0.8],[1.6,-0.2],[2.0,1.2],[2.4,0.2],[2.8,-1.0],[3.2,0.2],[3.6,-1.2],[4.0,0.0],[4.4,1.4],[4.8,0.4],[5.2,1.8],[5.6,0.8],[6.0,2.2],[6.4,1.2],[6.8,4.8],[7.2,4.0],[7.6,3.0],[8.0,4.4],[8.4,3.4],[8.8,2.4],[9.2,3.6],[9.6,2.6],[10.0,5.6],[10.4,4.6],[10.8,3.6],[11.2,4.8],[11.6,3.8],[12.0,2.6],[12.4,3.8],[12.8,2.8],[13.2,1.8],[13.6,3.0],[14.0,1.8],[14.4,0.8],[14.8,2.0],[15.2,1.0],[15.6,2.2],[16.0,1.0],[16.4,-0.2],[16.8,1.0],[17.2,-0.2],[17.6,-1.4],[18.0,-0.4],[18.4,-1.6],[18.8,-0.6],[19.2,-1.8],[19.6,-3.0],[20.0,-2.0],[20.4,-3.2],[20.8,-2.2],[21.2,-3.4],[21.6,-4.4],[22.0,-3.4],[22.4,-4.6],[22.8,-3.6],[23.2,-4.8],[23.75,-4.0]];

const seriesList: { data: number[][]; color: string }[] = [
  { data: redMidUp, color: RED },
  { data: gLowRight, color: GREEN },
  { data: bRight1, color: BLUE },
  { data: magentaMid, color: MAGENTA },
  { data: cyanLow, color: CYAN },
  { data: yellowMid, color: YELLOW },
  { data: darkred1, color: DARKRED },
  { data: darkblue2, color: DARKBLUE },
  { data: midblueUp, color: MIDBLUE },
  { data: blueLL, color: BLUE },
  { data: redLowMid, color: RED },
  { data: gMid, color: GREEN },
  { data: bRight2, color: BLUE },
  { data: mLow, color: MAGENTA },
  { data: cyan13, color: CYAN },
  { data: darkredUp, color: DARKRED },
  { data: midblueLow, color: MIDBLUE },
  { data: blueUpMid, color: MIDBLUE },
  { data: rLowLeft, color: RED },
  { data: g2, color: GREEN },
  { data: blueLate, color: BLUE },
  { data: m17, color: MAGENTA },
  { data: cyan21, color: CYAN },
  { data: drLowRight, color: DARKRED },
  { data: bBottom, color: DARKBLUE },
  { data: r19, color: RED },
  { data: gTop, color: GREEN },
  { data: bTopEnd, color: BLUE },
  { data: mTop, color: MAGENTA },
  { data: rJump14, color: DARKRED },
  { data: midblueZero, color: MIDBLUE },
  { data: yellowLow, color: YELLOW },
  { data: cyanZero, color: CYAN },
];

const FONT = 'DejaVu Sans Mono, monospace';

export default function App() {
  const left = 63, right = 623, top = 33, bottom = 443;
  const x = d3.scaleLinear().domain([0, 23.75]).range([left, right]);
  const y = d3.scaleLinear().domain([-30, 30]).range([bottom, top]);
  const line = d3.line<number[]>().x(d => x(d[0])).y(d => y(d[1]));
  const fs = 11.5;
  return (
    <svg width={640} height={480} style={{ position: 'absolute', left: 0, top: 0, background: '#fff' }}>
      <rect x={0} y={0} width={640} height={480} fill="#fff" />
      <g shapeRendering="crispEdges">
        {seriesList.map((s, i) => (
          <path key={i} d={line(s.data) || ''} fill="none" stroke={s.color} strokeWidth={1} />
        ))}
      </g>
      <rect x={left + 0.5} y={top + 0.5} width={right - left} height={bottom - top} fill="none" stroke="#000" strokeWidth={1} shapeRendering="crispEdges" />
      <g stroke="#000" strokeWidth={1} shapeRendering="crispEdges">
        {hourTicks.map(h => (
          <g key={h}>
            <line x1={Math.round(x(h)) + 0.5} x2={Math.round(x(h)) + 0.5} y1={bottom} y2={bottom - 5} />
            <line x1={Math.round(x(h)) + 0.5} x2={Math.round(x(h)) + 0.5} y1={top} y2={top + 5} />
          </g>
        ))}
        {valueTicks.map(v => (
          <g key={v}>
            <line x1={left} x2={left + 6} y1={Math.round(y(v)) + 0.5} y2={Math.round(y(v)) + 0.5} />
            <line x1={right} x2={right - 6} y1={Math.round(y(v)) + 0.5} y2={Math.round(y(v)) + 0.5} />
          </g>
        ))}
      </g>
      <g fontFamily={FONT} fontSize={fs} fill="#000">
        {hourTicks.map(h => (
          <text key={h} x={x(h)} y={459} textAnchor="middle">{h}</text>
        ))}
        {valueTicks.map(v => (
          <text key={v} x={55} y={y(v) + 4} textAnchor="end">{v}</text>
        ))}
        <text x={343} y={20} textAnchor="middle">Cumulative Z-Squared Value</text>
        <text x={343} y={474} textAnchor="middle">Hour of Day</text>
        <text transform="translate(26,238) rotate(-90)" textAnchor="middle">Cumulative (Z*Z)-1</text>
      </g>
    </svg>
  );
}
